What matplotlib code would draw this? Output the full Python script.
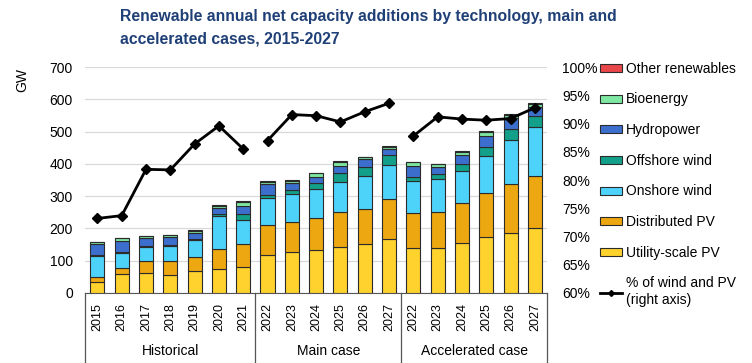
import numpy as np
import matplotlib
matplotlib.use("Agg")
import matplotlib.pyplot as plt
from matplotlib.patches import Patch
from matplotlib.lines import Line2D
from matplotlib.transforms import blended_transform_factory

plt.rcParams['font.family'] = ['Liberation Sans', 'DejaVu Sans']

# data (GW)
years = ['2015', '2016', '2017', '2018', '2019', '2020', '2021',
         '2022', '2023', '2024', '2025', '2026', '2027',
         '2022', '2023', '2024', '2025', '2026', '2027']
groups = ['Historical', 'Main case', 'Accelerated case']
group_sizes = [7, 6, 6]

utility_pv = [33, 58, 63, 57, 68, 75, 80,
              119, 126, 132, 143, 151, 167,
              138, 138, 155, 172, 186, 200]
distributed_pv = [17, 19, 35, 41, 43, 60, 72,
                  91, 93, 99, 107, 108, 124,
                  109, 114, 123, 137, 153, 164]
onshore_wind = [64, 48, 43, 47, 53, 105, 73,
                83, 87, 90, 93, 102, 107,
                99, 100, 101, 116, 136, 149]
offshore_wind = [3, 3, 4, 5, 4, 5, 19,
                 10, 13, 19, 28, 28, 30,
                 14, 17, 21, 29, 33, 35]
hydropower = [35, 34, 25, 22, 17, 18, 27,
              34, 21, 20, 24, 25, 17,
              33, 22, 27, 33, 34, 28]
bioenergy = [6, 7, 6, 8, 8, 8, 11,
             8, 8, 11, 12, 6, 8,
             12, 8, 10, 12, 10, 10]
other_renewables = [1, 1, 1, 1, 1, 2, 2,
                    2, 2, 1, 2, 2, 2,
                    2, 2, 2, 3, 4, 4]

# share of wind and PV (%), right axis
share_hist = [73.2, 73.7, 81.9, 81.8, 86.4, 89.6, 85.5]
share_main = [87.0, 91.6, 91.4, 90.3, 92.1, 93.6]
share_acc = [87.8, 91.2, 90.8, 90.6, 90.9, 92.8]

series = [
    ('Utility-scale PV', utility_pv, '#FFD22E'),
    ('Distributed PV', distributed_pv, '#EDA710'),
    ('Onshore wind', onshore_wind, '#4DD3FA'),
    ('Offshore wind', offshore_wind, '#13A08A'),
    ('Hydropower', hydropower, '#3C6FCD'),
    ('Bioenergy', bioenergy, '#7EE8A2'),
    ('Other renewables', other_renewables, '#E8474A'),
]

fig = plt.figure(figsize=(7.52, 3.63), dpi=100)
ax = fig.add_axes([0.1134, 0.193, 0.614, 0.622])

x = np.arange(len(years))
bottom = np.zeros(len(years))
for name, vals, col in series:
    ax.bar(x, vals, 0.58, bottom=bottom, color=col, edgecolor='#2b2b2b',
           linewidth=0.8, zorder=3)
    bottom += np.array(vals)

ax.set_xlim(-0.5, len(years) - 0.5)
ax.set_ylim(0, 700)
ax.set_yticks(range(0, 701, 100))
ax.yaxis.grid(True, color='#d9d9d9', linewidth=0.9, zorder=0)
ax.set_axisbelow(True)
for s in ['left', 'right', 'top']:
    ax.spines[s].set_visible(False)
ax.spines['bottom'].set_color('#555555')
ax.tick_params(axis='y', length=0, labelsize=10, pad=9)
ax.set_xticks(x)
ax.set_xticklabels(years, rotation=90, fontsize=9)
ax.tick_params(axis='x', length=0, pad=7)

# category separators and group labels below the axis
trans = blended_transform_factory(ax.transData, ax.transAxes)
edges = [-0.5]
for n in group_sizes:
    edges.append(edges[-1] + n)
for e in edges:
    ax.plot([e, e], [0, -0.31], transform=trans, color='#555555',
            linewidth=0.9, clip_on=False)
for i, g in enumerate(groups):
    ax.text((edges[i] + edges[i + 1]) / 2, -0.255, g, transform=trans,
            ha='center', va='center', fontsize=10)

fig.text(0.03, 0.78, 'GW', rotation=90, fontsize=10, ha='center', va='center')

# right axis line
ax2 = ax.twinx()
ax2.set_ylim(60, 100)
ax2.set_yticks(range(60, 101, 5))
ax2.set_yticklabels([f'{v}%' for v in range(60, 101, 5)])
ax2.tick_params(axis='y', length=0, labelsize=10, pad=11)
for s in ax2.spines.values():
    s.set_visible(False)
start = 0
for vals in [share_hist, share_main, share_acc]:
    xs = x[start:start + len(vals)]
    ax2.plot(xs, vals, color='black', linewidth=2, marker='D', markersize=5,
             zorder=5)
    start += len(vals)

# title
fig.text(0.16, 0.975, 'Renewable annual net capacity additions by technology, main and\n'
         'accelerated cases, 2015-2027', ha='left', va='top', fontsize=11.3,
         fontweight='bold', color='#1F3F77', linespacing=1.6)

# legend
handles = [Patch(facecolor=col, edgecolor='#2b2b2b', linewidth=0.8, label=name)
           for name, vals, col in reversed(series)]
handles.append(Line2D([0], [0], color='black', linewidth=2, marker='D',
                      markersize=3, label='% of wind and PV\n(right axis)'))
fig.legend(handles=handles, loc='upper left', bbox_to_anchor=(0.79, 0.845),
           frameon=False, fontsize=10, handlelength=1.6, handleheight=0.5,
           handletextpad=0.3, labelspacing=1.2, borderaxespad=0)

fig.savefig('out.png', dpi=100)
